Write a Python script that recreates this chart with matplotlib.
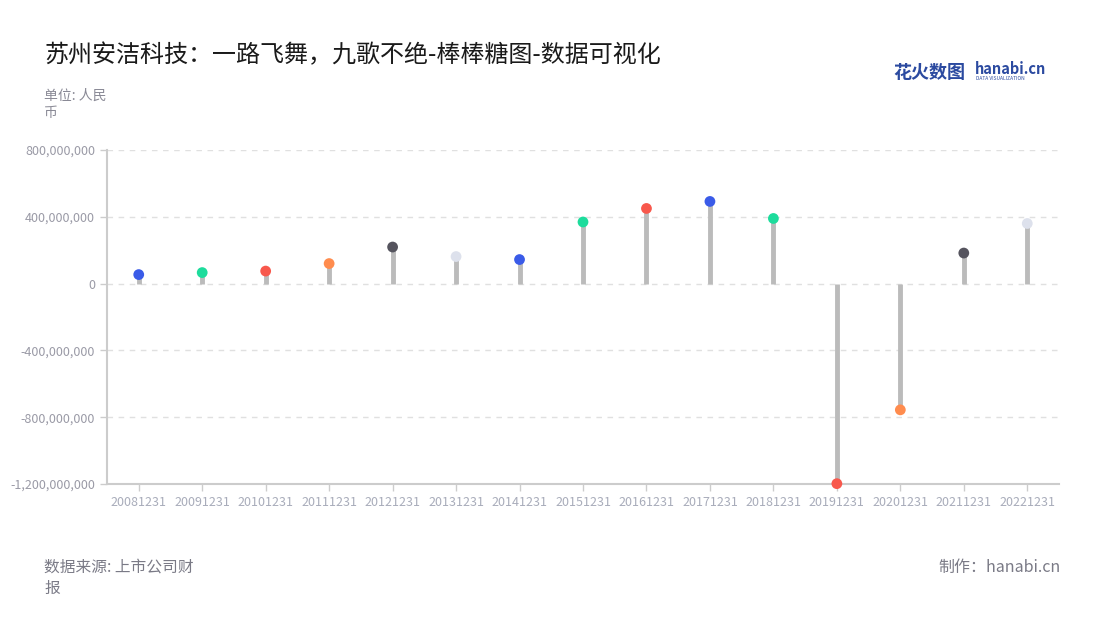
import matplotlib
matplotlib.use("Agg")
import matplotlib.pyplot as plt
from matplotlib.ticker import FuncFormatter

plt.rcParams['font.family'] = ['Noto Sans CJK SC', 'DejaVu Sans']

categories = ["20081231", "20091231", "20101231", "20111231", "20121231", "20131231",
              "20141231", "20151231", "20161231", "20171231", "20181231", "20191231",
              "20201231", "20211231", "20221231"]
values = [54e6, 66e6, 75e6, 120e6, 219e6, 162e6, 144e6, 369e6, 450e6, 492e6,
          390e6, -1198e6, -756e6, 183e6, 360e6]
dot_colors = ["#3a5be8", "#1ddc9c", "#f8584c", "#ff8c4e", "#55545e", "#dde1ec",
              "#3a5be8", "#1ddc9c", "#f8584c", "#3a5be8", "#1ddc9c", "#f8584c",
              "#ff8c4e", "#55545e", "#dde1ec"]
yticks = [-1.2e9, -8e8, -4e8, 0, 4e8, 8e8]

title = "苏州安洁科技：一路飞舞，九歌不绝-棒棒糖图-数据可视化"
unit = "单位: 人民\n币"
source = "数据来源: 上市公司财\n报"
maker = "制作：hanabi.cn"

fig = plt.figure(figsize=(11, 6.2), dpi=100)
ax = fig.add_axes([107/1100, 1-484/620, (1059-107)/1100, (484-150)/620])

x = list(range(len(categories)))
ax.vlines(x, 0, values, colors="#bbbbbb", linewidth=3.5, zorder=2)
ax.scatter(x, values, s=60, c=dot_colors, zorder=3, linewidths=0, clip_on=False)

ax.set_xlim(-0.5, len(categories) - 0.5)
ax.set_ylim(-1.2e9, 8e8)
ax.set_yticks(yticks)
ax.yaxis.set_major_formatter(FuncFormatter(lambda v, p: f"{int(round(v)):,}"))
ax.set_xticks(x)
ax.set_xticklabels(categories)
ax.grid(axis="y", color="#e0e0e0", linestyle=(0, (4, 4)), linewidth=1)
ax.set_axisbelow(True)
for s in ["top", "right"]:
    ax.spines[s].set_visible(False)
for s in ["left", "bottom"]:
    ax.spines[s].set_color("#cccccc")
    ax.spines[s].set_linewidth(1.5)
ax.tick_params(axis="y", colors="#cccccc", labelcolor="#9a9aa6", labelsize=9, length=5, width=1)
ax.tick_params(axis="x", colors="#cccccc", labelcolor="#a8acba", labelsize=9, length=5, width=1)

fig.text(44/1100, 1-55/620, title, fontsize=17.3, color="#1a1a1a", va="center", ha="left")
fig.text(44/1100, 1-104/620, unit, fontsize=10, color="#8a8a96", va="center", ha="left", linespacing=1.3)
fig.text(44/1100, 1-578/620, source, fontsize=11.3, color="#7a7a86", va="center", ha="left", linespacing=1.35)
fig.text(1061/1100, 1-567/620, maker, fontsize=11.5, color="#7a7a86", va="center", ha="right")

# logo
fig.text(893/1100, 1-72/620, "花火数图", fontsize=13, color="#2b4aa0", va="center", ha="left", fontweight="bold")
fig.text(975/1100, 1-69/620, "hanabi.cn", fontsize=10.5, color="#2b4aa0", va="center", ha="left", fontweight="bold")
fig.text(976/1100, 1-79/620, "DATA VISUALIZATION", fontsize=3.5, color="#2b4aa0", va="center", ha="left")

fig.savefig("out.png", dpi=100)
